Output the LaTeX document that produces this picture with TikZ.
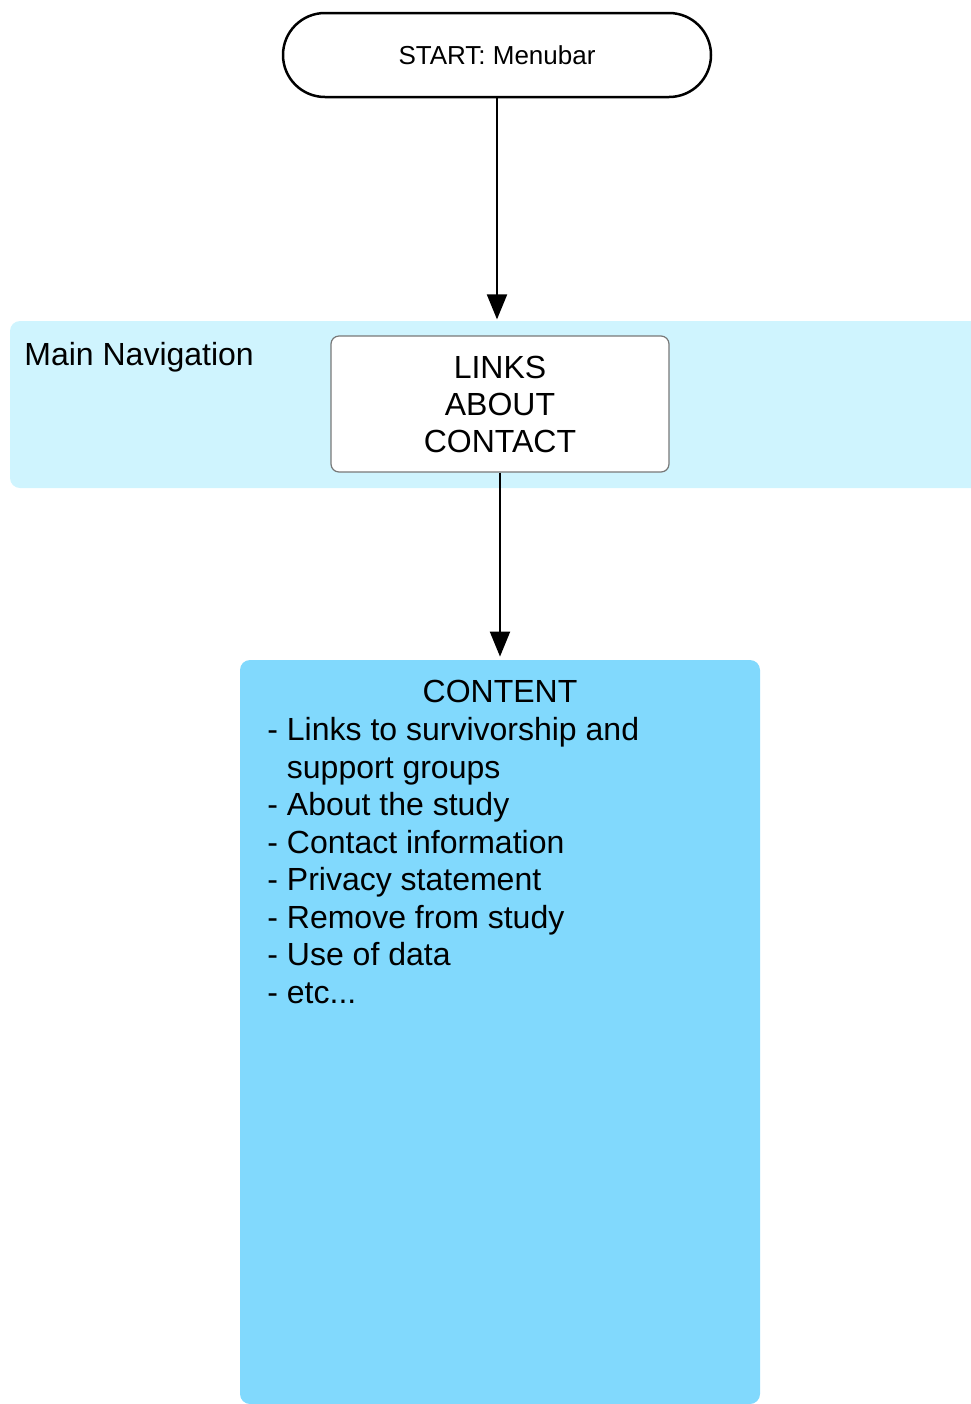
\documentclass[tikz,border=0pt]{standalone}
\usepackage{fontspec}
\setmainfont{Liberation Sans}
\usetikzlibrary{arrows.meta}
\definecolor{bandcol}{RGB}{207,244,254}
\definecolor{contentcol}{RGB}{129,217,253}
\definecolor{boxedge}{RGB}{120,120,120}
\tikzset{
  startbox/.style={draw=black, line width=1.25pt, rounded corners=21pt, minimum width=214pt, minimum height=42pt, inner sep=0pt, font=\fontsize{13}{15}\selectfont},
  navbox/.style={draw=boxedge, line width=0.6pt, fill=white, rounded corners=4pt, minimum width=169pt, minimum height=68pt, inner sep=0pt, align=center, font=\fontsize{16}{18.5}\selectfont},
  band/.style={fill=bandcol, rounded corners=5pt, minimum width=490pt, minimum height=83.5pt, inner sep=0pt},
  contentbox/.style={fill=contentcol, rounded corners=5pt, minimum width=260pt, minimum height=372pt, inner sep=0pt},
  bigtext/.style={inner sep=0pt, font=\fontsize{16}{18.75}\selectfont},
  arr/.style={line width=1pt, -{Triangle[length=12.5pt,width=10pt]}}
}
\begin{document}
\begin{tikzpicture}[x=0.5pt, y=-0.5pt]
  \useasboundingbox (0,0) rectangle (970,1404);
  % background band and content area
  \node[band] (navband) at (500,404.5) {};
  \node[contentbox] (content) at (500,1032) {};
  % nodes
  \node[startbox] (start) at (497,55) {START: Menubar};
  \node[navbox] (links) at (500,404) {LINKS\\ABOUT\\CONTACT};
  \node[bigtext, anchor=base west] (navlabel) at (24,365) {Main Navigation};
  \node[bigtext, anchor=base] (contenttitle) at (500,702) {CONTENT};
  \node[bigtext, anchor=north west, align=left] (contentlist) at (267,717) {%
    - Links to survivorship and\\
    \phantom{- }support groups\\
    - About the study\\
    - Contact information\\
    - Privacy statement\\
    - Remove from study\\
    - Use of data\\
    - etc...};
  % connectors
  \draw[arr, shorten >=8pt] (start.south) -- (start.south |- links.north);
  \draw[arr, shorten >=1.5pt] (links.south) -- (links.south |- content.north);
\end{tikzpicture}
\end{document}
